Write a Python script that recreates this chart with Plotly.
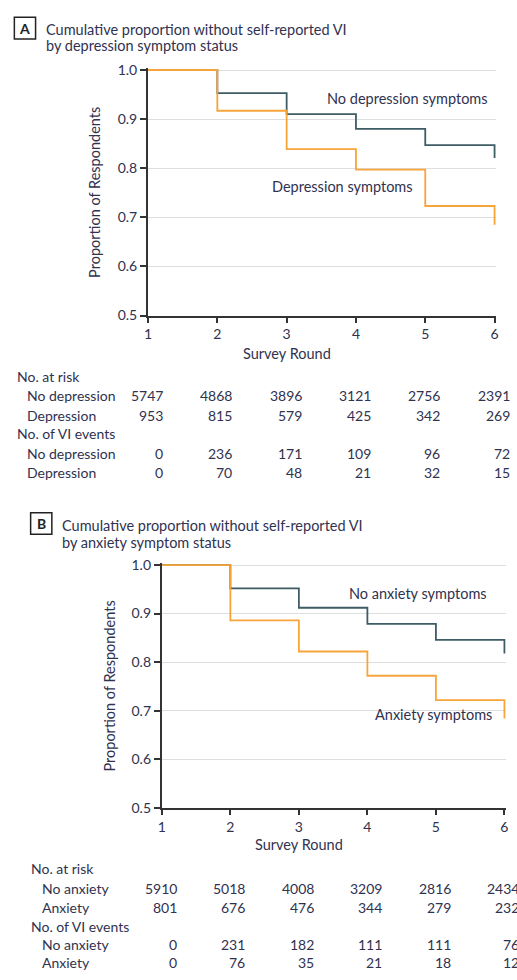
import plotly.graph_objects as go

W, H = 517, 980

rounds = [1, 2, 3, 4, 5, 6]

# Panel A
a_no_dep = [1.0, 0.953, 0.910, 0.880, 0.847, 0.821]
a_dep = [1.0, 0.917, 0.839, 0.797, 0.723, 0.685]
a_risk_no = ["5747", "4868", "3896", "3121", "2756", "2391"]
a_risk_yes = ["953", "815", "579", "425", "342", "269"]
a_ev_no = ["0", "236", "171", "109", "96", "72"]
a_ev_yes = ["0", "70", "48", "21", "32", "15"]

# Panel B
b_no_anx = [1.0, 0.952, 0.912, 0.879, 0.846, 0.818]
b_anx = [1.0, 0.886, 0.822, 0.772, 0.722, 0.684]
b_risk_no = ["5910", "5018", "4008", "3209", "2816", "2434"]
b_risk_yes = ["801", "676", "476", "344", "279", "232"]
b_ev_no = ["0", "231", "182", "111", "111", "76"]
b_ev_yes = ["0", "76", "35", "21", "18", "12"]

yticks = [0.5, 0.6, 0.7, 0.8, 0.9, 1.0]
ytick_text = ["0.5", "0.6", "0.7", "0.8", "0.9", "1.0"]

TEAL = "#3e5c66"
ORANGE = "#f7a43a"
TXT = "#30324f"
AX = "#333333"
FONT = "Lato, Liberation Sans, sans-serif"


def px(p):
    return p / W


def py(p):
    return 1 - p / H


fig = go.Figure()

panels = [
    dict(x0=146, x1=497.3, ytop=64, ybot=313.3, xa="x", ya="y"),
    dict(x0=160, x1=507.3, ytop=566.7, ybot=813.3, xa="x2", ya="y2"),
]

series = [
    (a_no_dep, a_dep),
    (b_no_anx, b_anx),
]

for i, (p, (s_no, s_yes)) in enumerate(zip(panels, series)):
    fig.add_trace(go.Scatter(x=rounds, y=s_no, mode="lines", line=dict(color=TEAL, width=1.8, shape="hv"),
                             xaxis=p["xa"], yaxis=p["ya"], showlegend=False, hoverinfo="skip"))
    fig.add_trace(go.Scatter(x=rounds, y=s_yes, mode="lines", line=dict(color=ORANGE, width=1.8, shape="hv"),
                             xaxis=p["xa"], yaxis=p["ya"], showlegend=False, hoverinfo="skip"))

layout_axes = {}
for i, p in enumerate(panels):
    xs = "" if i == 0 else "2"
    ppu_y = (p["ybot"] - p["ytop"]) / 0.5
    ypad = 2 / ppu_y
    ppu_x = (p["x1"] - p["x0"]) / 5
    xpad = 1.5 / ppu_x
    layout_axes["xaxis" + xs] = dict(
        domain=[px(p["x0"]), px(p["x1"] + 1.5)], range=[1, 6 + xpad],
        anchor="y" + xs, showline=True, linecolor=AX, linewidth=2,
        ticks="outside", ticklen=5, tickcolor=AX, tickwidth=1.5,
        tickvals=rounds, ticktext=[str(r) for r in rounds],
        tickfont=dict(family=FONT, size=14, color=TXT), showgrid=False, zeroline=False,
        fixedrange=True,
    )
    layout_axes["yaxis" + xs] = dict(
        domain=[py(p["ybot"]), py(p["ytop"] - 2)], range=[0.5, 1.0 + ypad],
        anchor="x" + xs, showline=True, linecolor=AX, linewidth=2,
        ticks="outside", ticklen=6, tickcolor=AX, tickwidth=1.5,
        tickvals=yticks, ticktext=ytick_text,
        tickfont=dict(family=FONT, size=14, color=TXT),
        showgrid=True, gridcolor="#dedede", gridwidth=1.2, zeroline=False,
        fixedrange=True,
    )

ann = []


def text(x, y, s, size=14, xanchor="left", color=TXT, xref="paper", xshift=0, **kw):
    ann.append(dict(x=x, y=y, xref=xref, yref="paper", text=s, showarrow=False,
                    xanchor=xanchor, yanchor="middle", xshift=xshift,
                    font=dict(family=FONT, size=size, color=color), **kw))


# Panel titles
text(px(21), py(21.5), "<b>A</b>", size=14, xanchor="center", color="#222222")
text(px(41), py(22.5), "Cumulative proportion without self-reported VI", size=14.5)
text(px(41), py(39.5), "by depression symptom status", size=14.5)
text(px(38), py(524.5), "<b>B</b>", size=14, xanchor="center", color="#222222")
text(px(57), py(527), "Cumulative proportion without self-reported VI", size=14.5)
text(px(57), py(544), "by anxiety symptom status", size=14.5)

# Curve labels
text(px(493), py(93), "No depression symptoms", xanchor="right", size=14.5)
text(px(417), py(182), "Depression symptoms", xanchor="right", size=14.5)
text(px(492), py(596), "No anxiety symptoms", xanchor="right", size=14.5)
text(px(497), py(718), "Anxiety symptoms", xanchor="right", size=14.5)

# Axis titles
text(px(287), py(352), "Survey Round", xanchor="center", size=14.5)
text(px(299), py(851), "Survey Round", xanchor="center", size=14.5)
text(px(91), py(188), "Proportion of Respondents", xanchor="center", textangle=-90, size=14.5)
text(px(106.5), py(690), "Proportion of Respondents", xanchor="center", textangle=-90, size=14.5)

# Number-at-risk / event tables
tables = [
    dict(xref="x", hx=11, lx=21, ys=[375, 395, 414.5, 433.5, 453.5, 473],
         rows=[("No depression", a_risk_no), ("Depression", a_risk_yes),
               ("No depression", a_ev_no), ("Depression", a_ev_yes)]),
    dict(xref="x2", hx=25, lx=36, ys=[875, 895, 914, 934, 952, 970],
         rows=[("No anxiety", b_risk_no), ("Anxiety", b_risk_yes),
               ("No anxiety", b_ev_no), ("Anxiety", b_ev_yes)]),
]
for t in tables:
    ys = t["ys"]
    text(px(t["hx"]), py(ys[0]), "No. at risk")
    text(px(t["hx"]), py(ys[3]), "No. of VI events")
    row_y = [ys[1], ys[2], ys[4], ys[5]]
    for (label, vals), yy in zip(t["rows"], row_y):
        text(px(t["lx"]), py(yy), label)
        for r, v in zip(rounds, vals):
            text(r, py(yy), v, xanchor="right", xref=t["xref"], xshift=17)

# Panel letter boxes
shapes = [
    dict(type="rect", xref="paper", yref="paper", x0=px(10.5), x1=px(32), y0=py(32.5), y1=py(10.5),
         line=dict(color="#222222", width=1.5)),
    dict(type="rect", xref="paper", yref="paper", x0=px(27), x1=px(48.5), y0=py(535.5), y1=py(513.5),
         line=dict(color="#222222", width=1.5)),
]

fig.update_layout(
    width=W, height=H, margin=dict(l=0, r=0, t=0, b=0),
    paper_bgcolor="white", plot_bgcolor="white",
    annotations=ann, shapes=shapes, showlegend=False,
    **layout_axes,
)

fig.write_html("out.html", config={"displayModeBar": False})
